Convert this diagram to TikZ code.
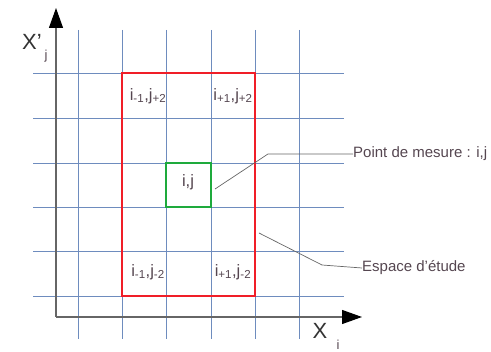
\documentclass[tikz,border=0pt]{standalone}
\usepackage{fontspec}
\setmainfont{Liberation Sans}
\usetikzlibrary{arrows.meta}
\definecolor{gridc}{RGB}{110,140,190}
\definecolor{txt}{RGB}{85,70,80}
\definecolor{redc}{RGB}{240,30,40}
\definecolor{greenc}{RGB}{30,170,60}
\tikzset{
  gridline/.style={draw=gridc, line width=0.9pt},
  axis/.style={draw=black!60, line width=1.2pt},
  axtip/.style={-{Triangle[length=20pt,width=14pt,color=black]}},
  cell/.style={text=txt, font=\fontsize{16.5}{18}\selectfont, inner sep=0pt},
  note/.style={text=txt, font=\fontsize{15}{17}\selectfont, inner sep=0pt, anchor=west},
  leader/.style={draw=black!60, line width=0.7pt}
}
\begin{document}
\begin{tikzpicture}[x=1pt,y=-1pt]
\useasboundingbox (0,0) rectangle (491,352);
% grid
\foreach \x in {78,122,166,211,255,299} \draw[gridline] (\x,30) -- (\x,339);
\foreach \y in {73,118,163,207,251,296} \draw[gridline] (33,\y) -- (344,\y);
% axes
\coordinate (O) at (56,317);
\coordinate (Ytop) at (56,8);
\coordinate (Xend) at (362,317);
\draw[axis, axtip] (O) -- (Ytop);
\draw[axis, axtip] (O) -- (Xend);
% axis labels
\node[text=black!80, font=\fontsize{22}{24}\selectfont, inner sep=0pt] (xj) at (32,42) {X'};
\node[text=txt, font=\fontsize{13}{14}\selectfont, inner sep=0pt] (xjs) at (46,56) {j};
\node[text=black!80, font=\fontsize{22}{24}\selectfont, inner sep=0pt] (xi) at (320,331) {X};
\node[text=txt, font=\fontsize{13}{14}\selectfont, inner sep=0pt] (xis) at (338,345) {i};
% rectangles
\draw[draw=redc, line width=1.5pt] (122,73) rectangle (255,296);
\node[draw=greenc, line width=1.5pt, minimum width=45pt, minimum height=44pt, inner sep=0pt] (pm) at (188.5,185) {};
% cell labels
\node[cell] (c1) at (148,96) {i\textsubscript{-1},j\textsubscript{+2}};
\node[cell] (c2) at (233,96) {i\textsubscript{+1},j\textsubscript{+2}};
\node[cell] (c3) at (188,182) {i,j};
\node[cell] (c4) at (148,272) {i\textsubscript{-1},j\textsubscript{-2}};
\node[cell] (c5) at (233,272) {i\textsubscript{+1},j\textsubscript{-2}};
% notes
\node[note] (n1) at (353,154) {Point de mesure : i,j};
\node[note] (n2) at (362,268) {Espace d'étude};
\coordinate (p1) at (215,189);
\coordinate (p2) at (268,154);
\coordinate (e1) at (259,233);
\coordinate (e2) at (322,265);
\draw[leader] (p1) -- (p2) -- (n1.west);
\draw[leader] (e1) -- (e2) -- (n2.west);
\end{tikzpicture}
\end{document}
